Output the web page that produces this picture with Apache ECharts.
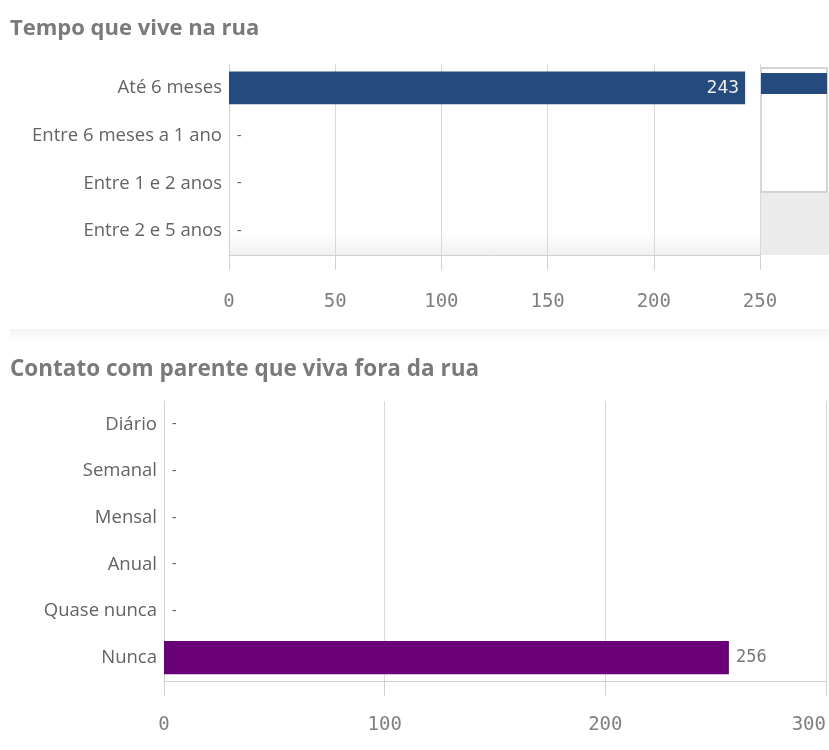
<!DOCTYPE html>
<html>
<head>
<meta charset="utf-8">
<script src="https://cdn.jsdelivr.net/npm/echarts@6/dist/echarts.min.js"></script>
<style>html,body{margin:0;padding:0;background:#fff}#c{width:829px;height:750px}</style>
</head>
<body>
<div id="c"></div>
<script>
var titleTop = 'Tempo que vive na rua';
var titleBottom = 'Contato com parente que viva fora da rua';
var tempoCategories = ['Até 6 meses', 'Entre 6 meses a 1 ano', 'Entre 1 e 2 anos', 'Entre 2 e 5 anos'];
var tempoValues = [243, 0, 0, 0];
var tempoTicks = [0, 50, 100, 150, 200, 250];
var contatoCategories = ['Diário', 'Semanal', 'Mensal', 'Anual', 'Quase nunca', 'Nunca'];
var contatoValues = [0, 0, 0, 0, 0, 256];
var contatoTicks = [0, 100, 200, 300];

var MONO = '"DejaVu Sans Mono", monospace';
var SANS = '"Open Sans", sans-serif';
var blue = '#254a7d';
var purple = '#6a0078';

var chart = echarts.init(document.getElementById('c'));

var topData = tempoValues.map(function (v) {
  return v > 0 ? {
    value: v,
    label: { show: true, position: 'insideRight', distance: 6, color: '#eeeeee', fontFamily: MONO, fontSize: 18, formatter: String(v) }
  } : {
    value: v,
    label: { show: true, position: 'right', distance: 8, color: '#555', fontFamily: SANS, fontSize: 14, formatter: '-' }
  };
});
var bottomData = contatoValues.map(function (v) {
  return v > 0 ? {
    value: v,
    label: { show: true, position: 'right', distance: 7, color: '#777', fontFamily: MONO, fontSize: 17, formatter: String(v) }
  } : {
    value: v,
    label: { show: true, position: 'right', distance: 8, color: '#555', fontFamily: SANS, fontSize: 14, formatter: '-' }
  };
});

var valueAxisCommon = function (grid, max, interval, tickLen, margin, alignMax) {
  return {
    type: 'value', gridIndex: grid, min: 0, max: max, interval: interval,
    axisLine: { show: true, lineStyle: { color: '#d0d0d0', width: 1 } },
    axisTick: { show: true, length: tickLen, lineStyle: { color: '#d0d0d0' } },
    splitLine: { show: true, lineStyle: { color: '#d9d9d9', width: 1 } },
    axisLabel: { color: '#808080', fontFamily: MONO, fontSize: 19, margin: margin, alignMaxLabel: alignMax }
  };
};
var catAxisCommon = function (grid, cats) {
  return {
    type: 'category', gridIndex: grid, data: cats, inverse: true,
    axisLine: { show: true, lineStyle: { color: '#d0d0d0' } },
    axisTick: { show: false },
    axisLabel: { color: '#636363', fontFamily: SANS, fontSize: 18.5, margin: 7 }
  };
};

chart.setOption({
  animation: false,
  title: [
    { text: titleTop, left: 5, top: 13, textStyle: { fontFamily: SANS, fontWeight: 'bold', fontSize: 22, color: '#7a7a7a' } },
    { text: titleBottom, left: 5, top: 353, textStyle: { fontFamily: SANS, fontWeight: 'bold', fontSize: 22.5, color: '#7a7a7a' } }
  ],
  grid: [
    { left: 229, top: 64, width: 531, height: 191, outerBoundsMode: 'none', containLabel: false,
      backgroundColor: new echarts.graphic.LinearGradient(0, 0, 0, 1, [
        { offset: 0, color: '#ffffff' }, { offset: 0.88, color: '#ffffff' }, { offset: 1, color: '#f1f1f1' }]),
      show: true, borderWidth: 0 },
    { left: 164, top: 401, width: 662, height: 280, outerBoundsMode: 'none', containLabel: false },
    { left: 761, top: 68, width: 66, height: 124, outerBoundsMode: 'none', show: true, borderColor: '#c8c8c8', borderWidth: 1.5, backgroundColor: '#fff' }
  ],
  xAxis: [
    valueAxisCommon(0, 250, 50, 15, 38, 'center'),
    valueAxisCommon(1, 300, 100, 15, 35, 'right'),
    { type: 'value', gridIndex: 2, min: 0, max: 243, show: false }
  ],
  yAxis: [
    catAxisCommon(0, tempoCategories),
    catAxisCommon(1, contatoCategories),
    { type: 'category', gridIndex: 2, data: tempoCategories, inverse: true, show: false }
  ],
  graphic: [
    { type: 'rect', left: 761, top: 193, shape: { width: 68, height: 62 }, style: { fill: '#ececec' }, silent: true },
    { type: 'rect', left: 10, top: 329, shape: { width: 819, height: 12 },
      style: { fill: new echarts.graphic.LinearGradient(0, 0, 0, 1, [
        { offset: 0, color: '#f4f4f4' }, { offset: 1, color: '#ffffff' }]) }, silent: true }
  ],
  series: [
    { type: 'bar', xAxisIndex: 0, yAxisIndex: 0, data: topData, barCategoryGap: '31%', itemStyle: { color: blue }, silent: true },
    { type: 'bar', xAxisIndex: 1, yAxisIndex: 1, data: bottomData, barCategoryGap: '29%', itemStyle: { color: purple }, silent: true },
    { type: 'bar', xAxisIndex: 2, yAxisIndex: 2, data: tempoValues, barCategoryGap: '32%', itemStyle: { color: blue }, silent: true }
  ]
});
</script>
</body>
</html>
